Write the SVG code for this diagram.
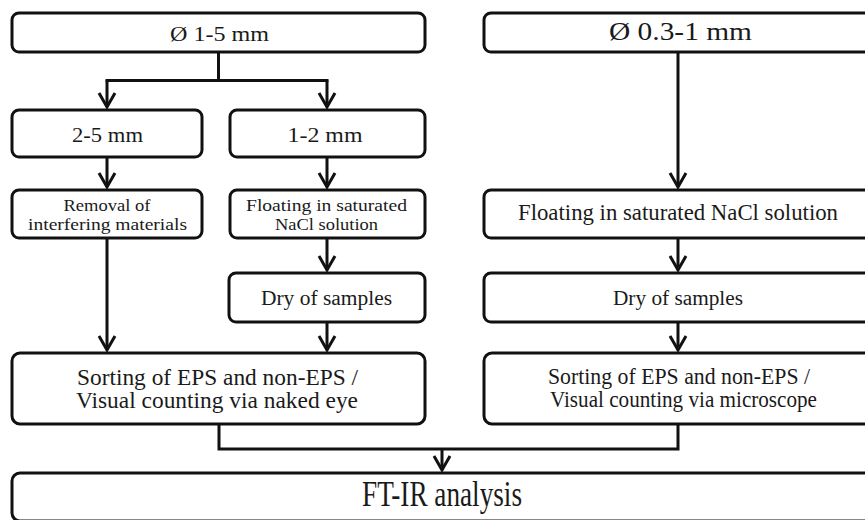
<svg xmlns="http://www.w3.org/2000/svg" width="865" height="520" viewBox="0 0 865 520">
<style>
.box{fill:#fff;stroke:#111;stroke-width:3}
.t{font-family:"Liberation Serif","DejaVu Serif",serif;fill:#1a1a1a;text-anchor:middle}
.c{fill:none;stroke:#111;stroke-width:3}
</style>
<defs>
<marker id="arr" markerUnits="userSpaceOnUse" markerWidth="24" markerHeight="24" viewBox="-18 -12 22 24" refX="0" refY="0" orient="auto">
<path d="M -14 -8 L 0 0 L -14 8" fill="none" stroke="#111" stroke-width="3" stroke-linejoin="miter"/>
</marker>
</defs>
<rect width="865" height="520" fill="#fff"/>
<g id="connectors">
<path class="c" d="M218.5 52 V80.5 M105.5 80.5 H328.5"/>
<path class="c" d="M107 80.5 V107" marker-end="url(#arr)"/>
<path class="c" d="M327 80.5 V107" marker-end="url(#arr)"/>
<path class="c" d="M107 157 V187" marker-end="url(#arr)"/>
<path class="c" d="M327 157 V187" marker-end="url(#arr)"/>
<path class="c" d="M107 238 V350" marker-end="url(#arr)"/>
<path class="c" d="M327 238 V270" marker-end="url(#arr)"/>
<path class="c" d="M327 322 V350" marker-end="url(#arr)"/>
<path class="c" d="M678 52 V187" marker-end="url(#arr)"/>
<path class="c" d="M678 238 V270" marker-end="url(#arr)"/>
<path class="c" d="M678 322 V350" marker-end="url(#arr)"/>
<path class="c" d="M219 424 V449 H678 V424"/>
<path class="c" d="M442 449 V470" marker-end="url(#arr)"/>
</g>
<g id="n-1-5mm">
<rect class="box" x="12" y="13" width="413" height="39" rx="7"/>
<text class="t" x="219.5" y="40.5" font-size="20" textLength="99" lengthAdjust="spacingAndGlyphs">Ø 1-5 mm</text>
</g>
<g id="n-0.3-1mm">
<rect class="box" x="484" y="13" width="396" height="39" rx="7"/>
<text class="t" x="680.5" y="40" font-size="25" textLength="143" lengthAdjust="spacingAndGlyphs">Ø 0.3-1 mm</text>
</g>
<g id="n-2-5mm">
<rect class="box" x="12" y="110" width="190" height="47" rx="7"/>
<text class="t" x="107.5" y="142" font-size="20" textLength="71" lengthAdjust="spacingAndGlyphs">2-5 mm</text>
</g>
<g id="n-1-2mm">
<rect class="box" x="230" y="110" width="195" height="47" rx="7"/>
<text class="t" x="325" y="142" font-size="20" textLength="75" lengthAdjust="spacingAndGlyphs">1-2 mm</text>
</g>
<g id="n-removal">
<rect class="box" x="12" y="190" width="190" height="48" rx="7"/>
<text class="t" x="107" y="210.5" font-size="17" textLength="87" lengthAdjust="spacingAndGlyphs">Removal of</text>
<text class="t" x="107.5" y="230" font-size="17" textLength="159" lengthAdjust="spacingAndGlyphs">interfering materials</text>
</g>
<g id="n-floating-left">
<rect class="box" x="230" y="190" width="195" height="48" rx="7"/>
<text class="t" x="326.5" y="211" font-size="17" textLength="161" lengthAdjust="spacingAndGlyphs">Floating in saturated</text>
<text class="t" x="326.5" y="230" font-size="17" textLength="103" lengthAdjust="spacingAndGlyphs">NaCl solution</text>
</g>
<g id="n-floating-right">
<rect class="box" x="484" y="190" width="396" height="48" rx="7"/>
<text class="t" x="678" y="220" font-size="23" textLength="320" lengthAdjust="spacingAndGlyphs">Floating in saturated NaCl solution</text>
</g>
<g id="n-dry-left">
<rect class="box" x="229" y="273" width="196" height="49" rx="7"/>
<text class="t" x="326.5" y="304.5" font-size="20" textLength="131" lengthAdjust="spacingAndGlyphs">Dry of samples</text>
</g>
<g id="n-dry-right">
<rect class="box" x="484" y="273" width="396" height="49" rx="7"/>
<text class="t" x="678" y="305" font-size="20" textLength="130" lengthAdjust="spacingAndGlyphs">Dry of samples</text>
</g>
<g id="n-sort-left">
<rect class="box" x="12" y="353" width="413" height="71" rx="8"/>
<text class="t" x="217.5" y="385" font-size="23" textLength="281" lengthAdjust="spacingAndGlyphs">Sorting of EPS and non-EPS /</text>
<text class="t" x="217" y="408" font-size="23" textLength="282" lengthAdjust="spacingAndGlyphs">Visual counting via naked eye</text>
</g>
<g id="n-sort-right">
<rect class="box" x="484" y="353" width="396" height="71" rx="8"/>
<text class="t" x="679" y="384" font-size="23" textLength="262" lengthAdjust="spacingAndGlyphs">Sorting of EPS and non-EPS /</text>
<text class="t" x="683.5" y="407" font-size="23" textLength="267" lengthAdjust="spacingAndGlyphs">Visual counting via microscope</text>
</g>
<g id="n-ftir">
<rect class="box" x="12" y="473" width="868" height="48" rx="8"/>
<text class="t" x="442" y="506" font-size="36" textLength="160" lengthAdjust="spacingAndGlyphs">FT-IR analysis</text>
</g>
</svg>
